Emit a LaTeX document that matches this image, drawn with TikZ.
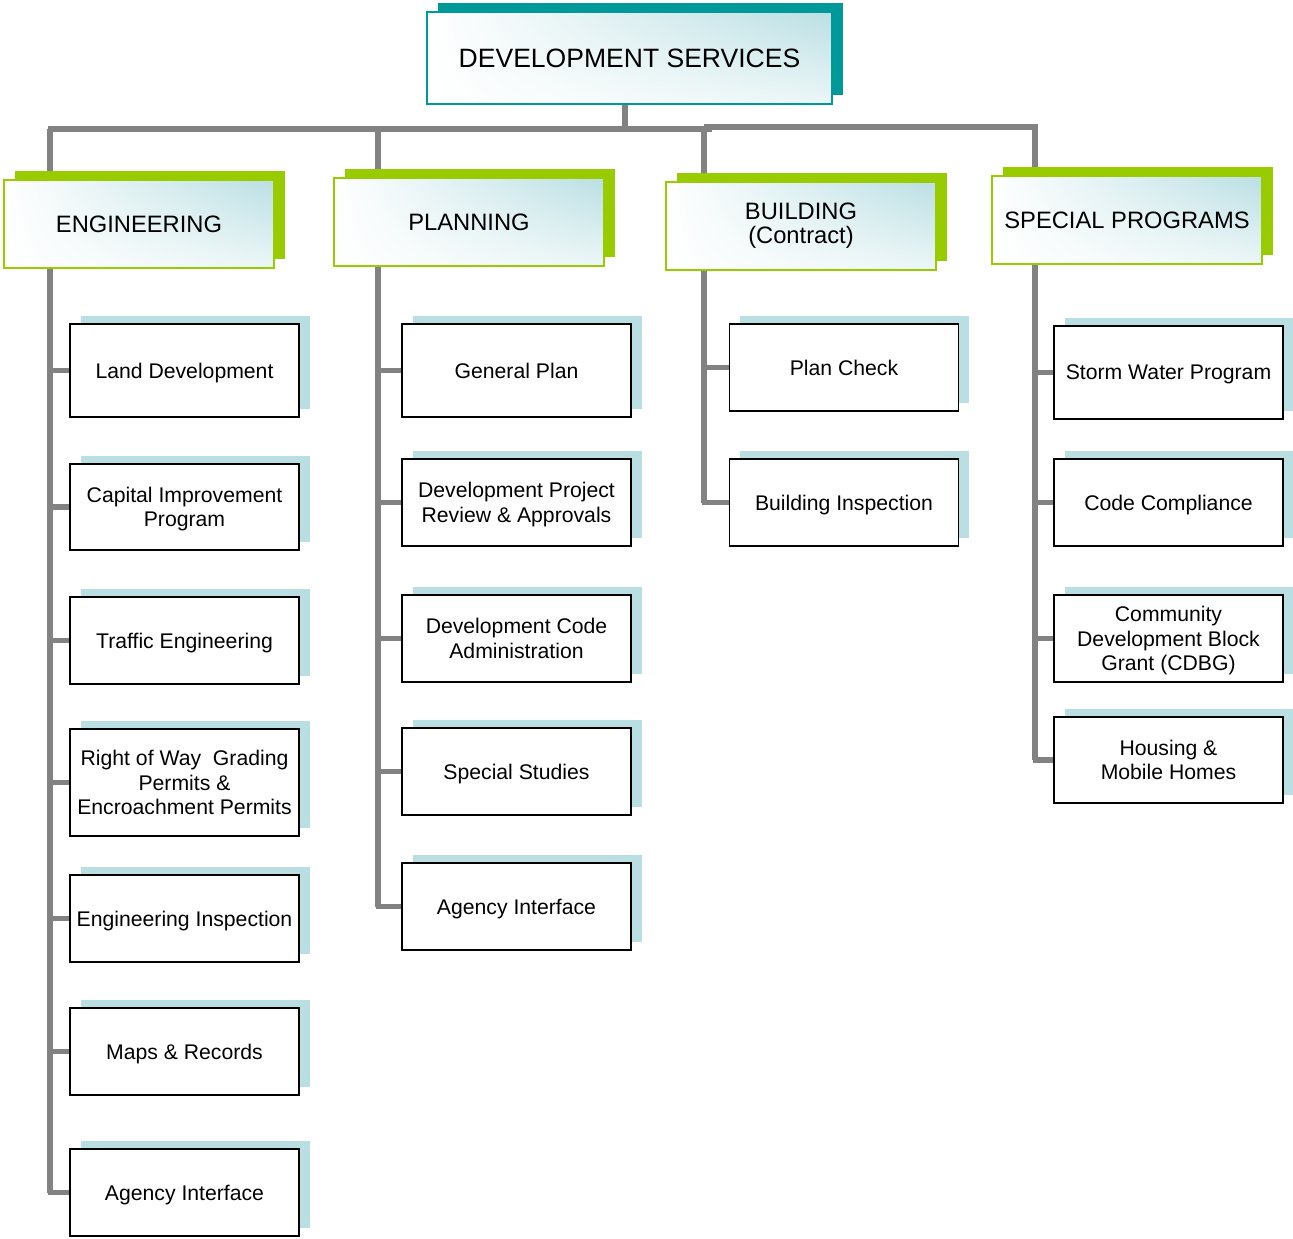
\documentclass[tikz,border=0pt]{standalone}
\usepackage{fontspec}
\setmainfont{Liberation Sans}
\usetikzlibrary{shadows,backgrounds,shadings}
\definecolor{tealdark}{RGB}{0,153,153}
\definecolor{limeg}{RGB}{153,204,0}
\definecolor{shadowc}{RGB}{185,223,226}
\definecolor{gradc}{RGB}{186,223,227}
\definecolor{gradlow}{RGB}{236,246,247}
\definecolor{connc}{RGB}{130,130,130}
\tikzset{
  gradbox/.style={shade, upper left=white, lower left=white, upper right=gradc, lower right=gradlow,
    line width=1.5pt, inner sep=0pt, align=center},
  topbox/.style={gradbox, draw=tealdark, minimum width=303.75pt, minimum height=69pt,
    font=\fontsize{19.9}{22}\selectfont,
    general shadow={fill=tealdark, shadow xshift=7.9pt, shadow yshift=6.8pt}},
  headbox/.style={gradbox, draw=limeg, minimum width=202.5pt, minimum height=66pt,
    font=\fontsize{17.8}{18}\selectfont,
    general shadow={fill=limeg, shadow xshift=7.9pt, shadow yshift=6.8pt}},
  childbox/.style={draw=black, line width=1.3pt, fill=white, minimum width=171.75pt,
    inner sep=2pt, text depth=0pt, align=center, font=\fontsize{15.9}{18.4}\selectfont,
    general shadow={fill=shadowc, shadow xshift=7.9pt, shadow yshift=6pt}},
  conn/.style={draw=connc, line width=4.3pt},
  hA/.style={minimum height=69.75pt},
  hB/.style={minimum height=65.25pt},
  hC/.style={minimum height=64.5pt},
  hD/.style={minimum height=80.25pt}
}
\begin{document}
\begin{tikzpicture}[x=0.75pt,y=-0.75pt]
\useasboundingbox (0,0) rectangle (1293,1239);
% top
\node[topbox] (top) at (629.5,58) {DEVELOPMENT SERVICES};
% headers
\node[headbox] (eng) at (139,224) {ENGINEERING};
\node[headbox] (plan) at (469,222) {PLANNING};
\node[headbox] (build) at (801,226) {BUILDING\\(Contract)};
\node[headbox] (spec) at (1127,220) {SPECIAL PROGRAMS};
% engineering children
\node[childbox,hA] (landdev) at (184.5,370.5) {Land Development};
\node[childbox,hC] (cip) at (184.5,507) {Capital Improvement\\Program};
\node[childbox,hB] (traffic) at (184.5,640.5) {Traffic Engineering};
\node[childbox,hD] (row) at (184.5,782.5) {Right of Way~ Grading\\Permits \&\\Encroachment Permits};
\node[childbox,hB] (enginsp) at (184.5,918.5) {Engineering Inspection};
\node[childbox,hB] (maps) at (184.5,1051.5) {Maps \& Records};
\node[childbox,hB] (agE) at (184.5,1192.5) {Agency Interface};
% planning children
\node[childbox,hA] (gp) at (516.5,370.5) {General Plan};
\node[childbox,hB] (dpr) at (516.5,502.5) {Development Project\\Review \& Approvals};
\node[childbox,hB] (dca) at (516.5,638.5) {Development Code\\Administration};
\node[childbox,hB] (ss) at (516.5,771.5) {Special Studies};
\node[childbox,hB] (agP) at (516.5,906.5) {Agency Interface};
% building children
\node[childbox,hB] (pc) at (844,367.5) {Plan Check};
\node[childbox,hB] (bi) at (844,502.5) {Building Inspection};
% special programs children
\node[childbox,hA] (sw) at (1168.5,372.5) {Storm Water Program};
\node[childbox,hB] (cc) at (1168.5,502.5) {Code Compliance};
\node[childbox,hB] (cdbg) at (1168.5,638.5) {Community\\Development Block\\Grant (CDBG)};
\node[childbox,hC] (hmh) at (1168.5,760) {Housing \&\\Mobile Homes};
% connectors
\coordinate (jE) at (50,129);
\coordinate (jP) at (378,129);
\coordinate (jB) at (704,129);
\coordinate (jR) at (712,129);
\coordinate (jB2) at (704,127);
\coordinate (jS) at (1035,127);
\begin{scope}[on background layer]
  \draw[conn] ([xshift=-3.4pt]top.south) -- ([xshift=-3.4pt]top.south |- jE);
  \draw[conn] ([xshift=-1.6pt]jE) -- (jR);
  \draw[conn] (jB2) -- (jS) -- (spec.north -| jS);
  \draw[conn] (jE) -- (eng.north -| jE);
  \draw[conn] (jP) -- (plan.north -| jP);
  \draw[conn] (jB) -- (build.north -| jB);
  % spines
  \draw[conn] (eng.south -| jE) -- (agE.west -| jE);
  \draw[conn] (plan.south -| jP) -- (agP.west -| jP);
  \draw[conn] (build.south -| jB) -- (bi.west -| jB);
  \draw[conn] (spec.south -| jS) -- (hmh.west -| jS);
  % branches
  \foreach \c in {landdev,cip,traffic,row,enginsp,maps} \draw[conn] (\c.west -| jE) -- (\c.west);
  \draw[conn] ([xshift=-1.6pt]agE.west -| jE) -- (agE.west);
  \foreach \c in {gp,dpr,dca,ss} \draw[conn] (\c.west -| jP) -- (\c.west);
  \draw[conn] ([xshift=-1.6pt]agP.west -| jP) -- (agP.west);
  \draw[conn] (pc.west -| jB) -- (pc.west);
  \draw[conn] ([xshift=-1.6pt]bi.west -| jB) -- (bi.west);
  \foreach \c in {sw,cc,cdbg} \draw[conn] (\c.west -| jS) -- (\c.west);
  \draw[conn] ([xshift=-1.6pt]hmh.west -| jS) -- (hmh.west);
\end{scope}
\end{tikzpicture}
\end{document}
